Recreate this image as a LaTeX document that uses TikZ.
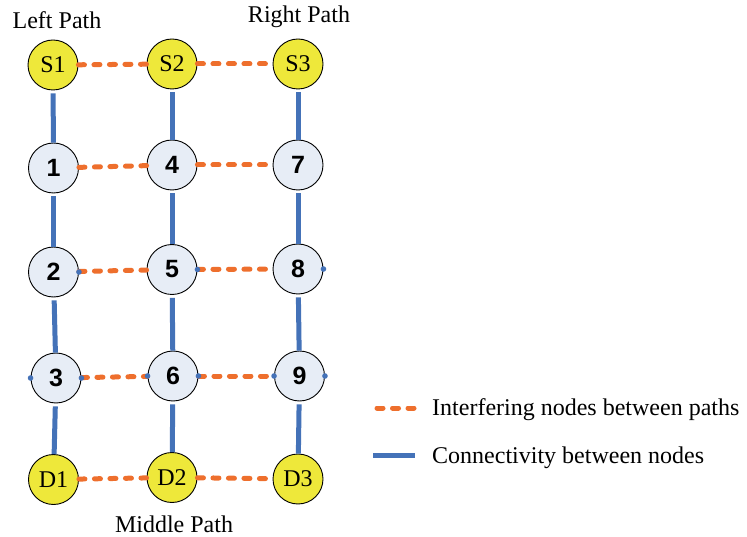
\documentclass[tikz,border=0pt]{standalone}
\usepackage{fontspec}
\setmainfont{Liberation Serif}
\newfontfamily\arialfont{Liberation Sans}
\definecolor{nyellow}{RGB}{238,232,58}
\definecolor{nlight}{RGB}{231,237,246}
\definecolor{cblue}{RGB}{68,114,184}
\definecolor{corange}{RGB}{238,111,45}
\tikzset{
  snode/.style={circle,draw=black,line width=0.9pt,fill=nyellow,minimum size=50pt,inner sep=0pt,font=\fontsize{24}{26}\selectfont},
  mnode/.style={circle,draw=black,line width=0.9pt,fill=nlight,minimum size=50pt,inner sep=0pt,font=\arialfont\bfseries\fontsize{25}{26}\selectfont},
  conn/.style={draw=cblue,line width=5pt},
  interf/.style={draw=corange,line width=5pt,line cap=round,dash pattern=on 6pt off 9.5pt},
  lbl/.style={font=\fontsize{24}{28}\selectfont,anchor=base,inner sep=0pt},
  lgd/.style={font=\fontsize{24}{28}\selectfont,anchor=base west,inner sep=0pt},
}
\begin{document}
\begin{tikzpicture}[x=1pt,y=-1pt]
\useasboundingbox (0,0) rectangle (747,537);
% nodes
\node[snode] (S1) at (53,65) {S1};
\node[snode] (S2) at (172,64) {S2};
\node[snode] (S3) at (298,64) {S3};
\node[mnode] (n1) at (53.5,168) {1};
\node[mnode] (n4) at (172,165) {4};
\node[mnode] (n7) at (298,165) {7};
\node[mnode] (n2) at (53.5,272) {2};
\node[mnode] (n5) at (172,269.5) {5};
\node[mnode] (n8) at (298,269) {8};
\node[mnode] (n3) at (56,378) {3};
\node[mnode] (n6) at (173,376) {6};
\node[mnode] (n9) at (299.5,376) {9};
\node[snode] (D1) at (53.5,479.5) {D1};
\node[snode] (D2) at (172,477.5) {D2};
\node[snode] (D3) at (298,479) {D3};
% connectivity
\begin{scope}[shorten <=3pt]
\draw[conn] (S1) -- (n1); \draw[conn] (n1) -- (n2); \draw[conn] (n2) -- (n3); \draw[conn] (n3) -- (D1);
\draw[conn] (S2) -- (n4); \draw[conn] (n4) -- (n5); \draw[conn] (n5) -- (n6); \draw[conn] (n6) -- (D2);
\draw[conn] (S3) -- (n7); \draw[conn] (n7) -- (n8); \draw[conn] (n8) -- (n9); \draw[conn] (n9) -- (D3);
\end{scope}
% interference
\draw[interf] (S1) -- (S2); \draw[interf] (S2) -- (S3);
\draw[interf] (n1) -- (n4); \draw[interf] (n4) -- (n7);
\draw[interf] (n2) -- (n5); \draw[interf] (n5) -- (n8);
\draw[interf] (n3) -- (n6); \draw[interf] (n6) -- (n9);
\draw[interf] (D1) -- (D2); \draw[interf] (D2) -- (D3);
% connection dots
\foreach \p in {n2.east,n5.east,n8.east,n3.west,n3.east,n6.west,n6.east,n9.west,n9.east}
  \fill[cblue] (\p) circle (2.8);
% path labels
\node[lbl] (lp) at (57,29) {Left Path};
\node[lbl] (rp) at (299,23) {Right Path};
\node[lbl] (mp) at (174,532) {Middle Path};
% legend
\coordinate (la1) at (377,408); \coordinate (la2) at (417,408);
\coordinate (lb1) at (373,455); \coordinate (lb2) at (415,455);
\draw[interf] (la1) -- (la2);
\draw[conn] (lb1) -- (lb2);
\node[lgd] (lt1) at (432,415) {Interfering nodes between paths};
\node[lgd] (lt2) at (432,463) {Connectivity between nodes};
\end{tikzpicture}
\end{document}
